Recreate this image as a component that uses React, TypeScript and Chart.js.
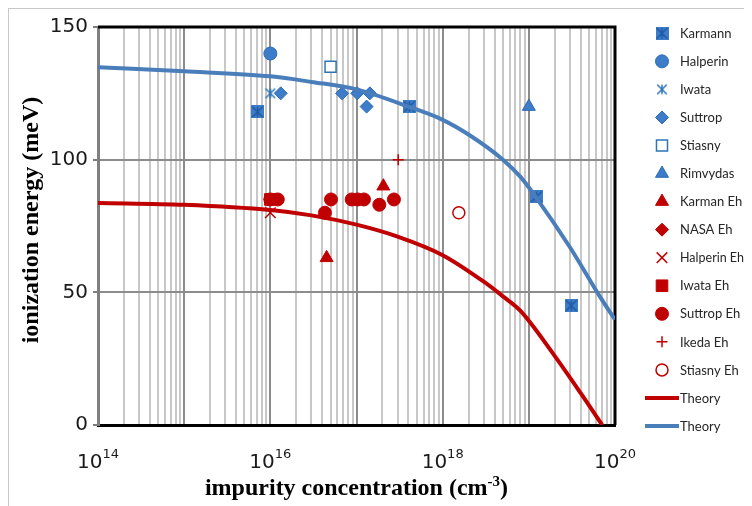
import React, { useEffect, useRef } from 'react';
import { Chart, registerables } from 'chart.js';
import { drawPoint } from 'chart.js/helpers';

Chart.register(...registerables);

// ---- data (impurity concentration in cm^-3, ionization energy in meV) ----
const karmannX = [7.1e15, 4.1e17, 1.23e19, 3.1e19];
const karmannY = [118, 120, 86, 45];
const halperinX = [1e16];
const halperinY = [140];
const iwataX = [1e16];
const iwataY = [125];
const suttropX = [1.32e16, 6.8e16, 1.02e17, 1.43e17, 1.31e17];
const suttropY = [125, 125, 125, 125, 120];
const stiasnyX = [5e16];
const stiasnyY = [135];
const rimvydasX = [1e19];
const rimvydasY = [120];
const karmanEhX = [4.5e16, 2.05e17];
const karmanEhY = [63, 90];
const nasaEhX = [1e16];
const nasaEhY = [85];
const halperinEhX = [1e16];
const halperinEhY = [80];
const iwataEhX = [1e16];
const iwataEhY = [85];
const suttropEhX = [1e16, 1.22e16, 4.3e16, 5.06e16, 8.8e16, 1.03e17, 1.22e17, 1.84e17, 2.72e17];
const suttropEhY = [85, 85, 80, 85, 85, 85, 85, 83, 85];
const ikedaEhX = [3.05e17];
const ikedaEhY = [100];
const stiasnyEhX = [1.54e18];
const stiasnyEhY = [80];
const redTheoryX = [1e14, 1e15, 1e16, 3e16, 1e17, 3e17, 1e18, 3e18, 5e18, 8e18, 1.9e19, 4e19, 7.1e19];
const redTheoryY = [83.7, 83, 81, 79, 75.5, 71, 64, 54, 48.5, 43, 27, 12, 0];
const blueTheoryX = [1e14, 1e15, 1e16, 3e16, 1e17, 4e17, 1e18, 2.1e18, 5e18, 8e18, 1.2e19, 3e19, 6.8e19, 1e20];
const blueTheoryY = [134.8, 133.3, 131.4, 129.3, 126.5, 120, 115, 109, 100, 93.5, 86, 67, 48, 39.7];

const xTickExponents = [14, 16, 18, 20];
const yTickValues = [0, 50, 100, 150];
const xTitleMain = 'impurity concentration (cm';
const xTitleSup = '-3';
const xTitleEnd = ')';
const yTitle = 'ionization energy (meV)';

const BLUE_FILL = '#3D7CC9';
const BLUE_EDGE = '#2E6BB3';
const RED = '#C00000';

function pts(xs: number[], ys: number[]) {
  return xs.map((x, i) => ({ x, y: ys[i] }));
}

function makeStar(size: number, fill: string | null, stroke: string, lw: number) {
  const c = document.createElement('canvas');
  c.width = size;
  c.height = size;
  const g = c.getContext('2d')!;
  if (fill) {
    g.fillStyle = fill;
    g.fillRect(0, 0, size, size);
  }
  g.strokeStyle = stroke;
  g.lineWidth = lw;
  const p = lw / 2 + 0.5;
  g.beginPath();
  g.moveTo(p, p);
  g.lineTo(size - p, size - p);
  g.moveTo(size - p, p);
  g.lineTo(p, size - p);
  g.moveTo(size / 2, p);
  g.lineTo(size / 2, size - p);
  g.stroke();
  return c;
}

const isDecade = (v: number) => {
  const l = Math.log10(v);
  return Math.abs(l - Math.round(l)) < 1e-9;
};

export default function App() {
  const ref = useRef<HTMLCanvasElement>(null);

  useEffect(() => {
    document.documentElement.style.overflow = 'hidden';
    document.body.style.overflow = 'hidden';
    if (!ref.current) return;
    const karmannImg = makeStar(13, BLUE_FILL, '#1F5AA3', 1.5);
    const iwataImg = makeStar(12, null, '#2E75B6', 1.5);

    type S = {
      label: string;
      xs: number[];
      ys: number[];
      style: any;
      radius: number;
      bg: string;
      border: string;
      bw: number;
      line?: boolean;
    };
    const series: S[] = [
      { label: 'Karmann', xs: karmannX, ys: karmannY, style: karmannImg, radius: 6, bg: BLUE_FILL, border: BLUE_EDGE, bw: 1 },
      { label: 'Halperin', xs: halperinX, ys: halperinY, style: 'circle', radius: 6.5, bg: BLUE_FILL, border: BLUE_EDGE, bw: 1 },
      { label: 'Iwata', xs: iwataX, ys: iwataY, style: iwataImg, radius: 6, bg: BLUE_FILL, border: BLUE_EDGE, bw: 1 },
      { label: 'Suttrop', xs: suttropX, ys: suttropY, style: 'rectRot', radius: 6.5, bg: BLUE_FILL, border: BLUE_EDGE, bw: 1 },
      { label: 'Stiasny', xs: stiasnyX, ys: stiasnyY, style: 'rect', radius: 7.8, bg: '#ffffff', border: '#2E75B6', bw: 1.5 },
      { label: 'Rimvydas', xs: rimvydasX, ys: rimvydasY, style: 'triangle', radius: 7.5, bg: BLUE_FILL, border: BLUE_EDGE, bw: 1 },
      { label: 'Karman Eh', xs: karmanEhX, ys: karmanEhY, style: 'triangle', radius: 7.5, bg: RED, border: RED, bw: 1 },
      { label: 'NASA Eh', xs: nasaEhX, ys: nasaEhY, style: 'rectRot', radius: 6.5, bg: RED, border: RED, bw: 1 },
      { label: 'Halperin Eh', xs: halperinEhX, ys: halperinEhY, style: 'crossRot', radius: 7.5, bg: RED, border: RED, bw: 1.5 },
      { label: 'Iwata Eh', xs: iwataEhX, ys: iwataEhY, style: 'rect', radius: 8.2, bg: RED, border: RED, bw: 1 },
      { label: 'Suttrop Eh', xs: suttropEhX, ys: suttropEhY, style: 'circle', radius: 6.5, bg: RED, border: RED, bw: 1 },
      { label: 'Ikeda Eh', xs: ikedaEhX, ys: ikedaEhY, style: 'cross', radius: 5.5, bg: RED, border: RED, bw: 1.5 },
      { label: 'Stiasny Eh', xs: stiasnyEhX, ys: stiasnyEhY, style: 'circle', radius: 6, bg: '#ffffff', border: RED, bw: 1.5 },
      { label: 'Theory', xs: redTheoryX, ys: redTheoryY, style: 'line', radius: 0, bg: RED, border: RED, bw: 4, line: true },
      { label: 'Theory', xs: blueTheoryX, ys: blueTheoryY, style: 'line', radius: 0, bg: '#4A7EBB', border: '#4A7EBB', bw: 4, line: true },
    ];

    const datasets = series.map((s, k) => ({
      label: s.label,
      data: pts(s.xs, s.ys),
      order: 100 - k,
      showLine: !!s.line,
      borderColor: s.border,
      backgroundColor: s.bg,
      borderWidth: s.line ? 4 : 0,
      cubicInterpolationMode: 'monotone' as const,
      pointRadius: s.radius,
      pointStyle: s.line ? 'circle' : s.style,
      pointBackgroundColor: s.bg,
      pointBorderColor: s.border,
      pointBorderWidth: s.bw,
      pointHoverRadius: s.radius,
    }));

    const framePlugin = {
      id: 'frameAndLegend',
      beforeDatasetsDraw(chart: any) {
        const { ctx, chartArea: a } = chart;
        ctx.save();
        ctx.strokeStyle = '#000';
        ctx.lineWidth = 3;
        ctx.beginPath();
        ctx.moveTo(a.left, a.top);
        ctx.lineTo(a.right, a.top);
        ctx.lineTo(a.right, a.bottom);
        ctx.stroke();
        ctx.restore();
      },
      afterDraw(chart: any) {
        const { ctx, chartArea: a } = chart;
        const xs = chart.scales.x;
        ctx.save();
        // x tick labels with superscript exponents
        ctx.fillStyle = '#1a1a1a';
        ctx.textBaseline = 'alphabetic';
        ctx.textAlign = 'left';
        for (const e of xTickExponents) {
          const px = xs.getPixelForValue(Math.pow(10, e));
          ctx.font = '20px "DejaVu Sans"';
          const w1 = ctx.measureText('10').width;
          ctx.font = '13px "DejaVu Sans"';
          const w2 = ctx.measureText(String(e)).width;
          const start = px - (w1 + w2) / 2;
          ctx.font = '20px "DejaVu Sans"';
          ctx.fillText('10', start, a.bottom + 43);
          ctx.font = '13px "DejaVu Sans"';
          ctx.fillText(String(e), start + w1, a.bottom + 33);
        }
        // x axis title with superscript
        ctx.fillStyle = '#000';
        const mainFont = 'bold 24px "Liberation Serif"';
        const supFont = 'bold 15px "Liberation Serif"';
        ctx.font = mainFont;
        const tw1 = ctx.measureText(xTitleMain).width;
        const tw3 = ctx.measureText(xTitleEnd).width;
        ctx.font = supFont;
        const tw2 = ctx.measureText(xTitleSup).width;
        const cx = (a.left + a.right) / 2;
        let sx = cx - (tw1 + tw2 + tw3) / 2;
        const by = a.bottom + 70;
        ctx.font = mainFont;
        ctx.fillText(xTitleMain, sx, by);
        sx += tw1;
        ctx.font = supFont;
        ctx.fillText(xTitleSup, sx, by - 9);
        sx += tw2;
        ctx.font = mainFont;
        ctx.fillText(xTitleEnd, sx, by);
        // y axis title
        ctx.save();
        ctx.translate(23, 211);
        ctx.rotate(-Math.PI / 2);
        ctx.textAlign = 'center';
        ctx.textBaseline = 'middle';
        ctx.font = mainFont;
        ctx.fillText(yTitle, 0, 0);
        ctx.restore();
        // legend
        const mx = 653;
        const tx = 671;
        const y0 = 24.3;
        const dy = 28.05;
        ctx.font = '13px Lato';
        ctx.textBaseline = 'middle';
        ctx.textAlign = 'left';
        series.forEach((s, i) => {
          const y = y0 + dy * i;
          if (s.line) {
            ctx.strokeStyle = s.border;
            ctx.lineWidth = 4;
            ctx.beginPath();
            ctx.moveTo(636, y);
            ctx.lineTo(670, y);
            ctx.stroke();
          } else {
            ctx.fillStyle = s.bg;
            ctx.strokeStyle = s.border;
            ctx.lineWidth = s.bw;
            drawPoint(ctx, { pointStyle: s.style, radius: s.radius, rotation: 0, borderWidth: s.bw } as any, mx, y);
          }
          ctx.fillStyle = '#262626';
          ctx.fillText(s.label, tx, y + 0.5, 64);
        });
        ctx.restore();
      },
    };

    const chart = new Chart(ref.current, {
      type: 'scatter',
      data: { datasets: datasets as any },
      options: {
        responsive: false,
        animation: false,
        events: [],
        layout: { padding: { top: 18, right: 137, bottom: 5, left: 0 } },
        plugins: { legend: { display: false }, tooltip: { enabled: false } },
        scales: {
          x: {
            type: 'logarithmic',
            min: 1e14,
            max: 1e20,
            afterBuildTicks: (scale: any) => {
              const t: any[] = [];
              for (let e = 14; e < 20; e++) {
                for (let m = 1; m <= 9; m++) t.push({ value: m * Math.pow(10, e) });
              }
              t.push({ value: 1e20 });
              scale.ticks = t;
            },
            afterFit: (scale: any) => {
              scale.height = 76;
            },
            ticks: { display: false, autoSkip: false },
            grid: {
              drawTicks: false,
              lineWidth: 2,
              color: (c: any) => (c.tick && isDecade(c.tick.value) ? '#8c8c8c' : '#c8c8c8'),
            },
            border: { color: '#000', width: 3 },
            title: { display: false },
          },
          y: {
            type: 'linear',
            min: 0,
            max: 150,
            afterBuildTicks: (scale: any) => {
              scale.ticks = yTickValues.map((v) => ({ value: v }));
            },
            afterFit: (scale: any) => {
              scale.width = 89;
            },
            ticks: {
              color: '#1a1a1a',
              padding: 5,
              font: { family: '"DejaVu Sans"', size: 20 },
            },
            grid: {
              lineWidth: 2,
              tickLength: 5,
              tickColor: '#7f7f7f',
              color: (c: any) => (c.tick && c.tick.value === 150 ? 'rgba(0,0,0,0)' : '#8c8c8c'),
            },
            border: { color: '#7f7f7f', width: 3 },
            title: { display: false },
          },
        },
      },
      plugins: [framePlugin],
    });
    return () => chart.destroy();
  }, []);

  return (
    <div
      style={{
        width: 744,
        height: 498,
        borderTop: '1px solid #c8c8c8',
        borderLeft: '1px solid #c8c8c8',
        boxSizing: 'border-box',
      }}
    >
      <canvas ref={ref} width={743} height={497} style={{ display: 'block' }} />
    </div>
  );
}
